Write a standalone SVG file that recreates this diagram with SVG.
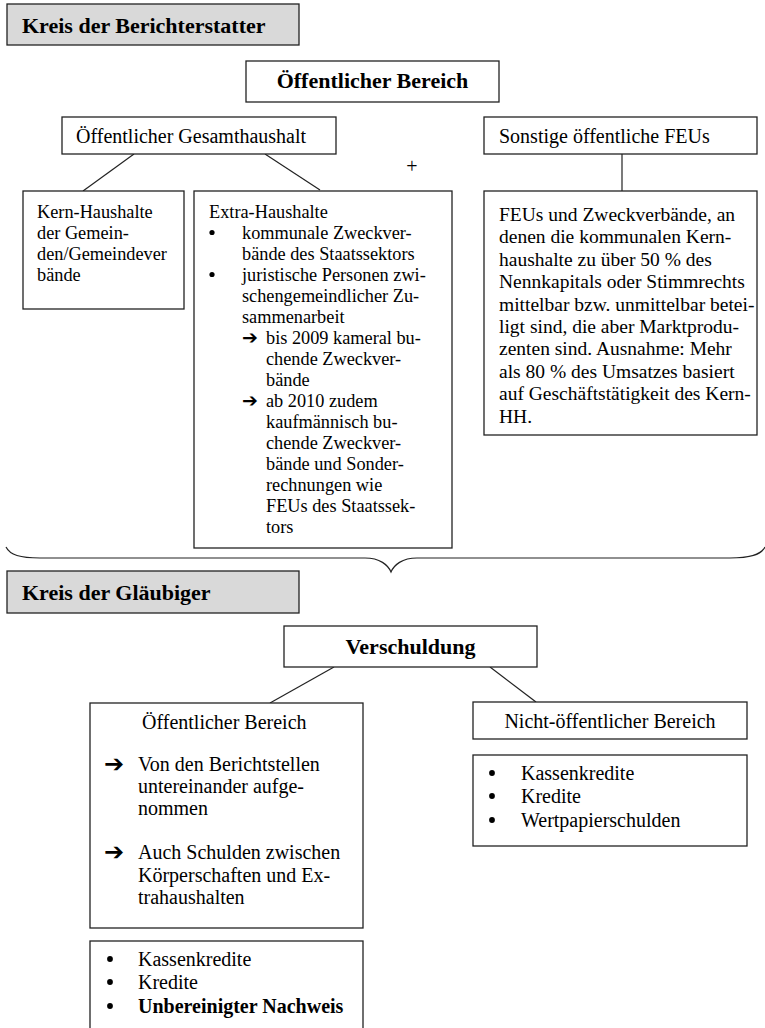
<svg xmlns="http://www.w3.org/2000/svg" width="765" height="1028" viewBox="0 0 765 1028">
<style>
.box{fill:#fff;stroke:#222;stroke-width:1.3}
.hdr{fill:#d9d9d9;stroke:#222;stroke-width:1.3}
.ln{stroke:#222;stroke-width:1.2;fill:none}
.dot{fill:#000}
text{font-family:"Liberation Serif","Times New Roman",serif;fill:#000}
.b{font-weight:bold}
.t20{font-size:20px}
.t18{font-size:18.3px}
.t19{font-size:19.5px}
.t22{font-size:22px}
.arr{font-family:"DejaVu Sans",sans-serif;font-weight:bold}
</style>
<rect width="765" height="1028" fill="#fff"/>

<g id="connectors">
<line class="ln" x1="134" y1="154" x2="83" y2="191"/>
<line class="ln" x1="265" y1="154" x2="320" y2="190"/>
<line class="ln" x1="622" y1="154" x2="622" y2="191"/>
<path class="ln" stroke-width="1.5" d="M6,547 C10,555 20,558 40,558 L365,558 C380,558 388,565 391,572 C394,565 402,558 417,558 L730,558 C750,558 761,555 765,547"/>
<line class="ln" x1="334" y1="667" x2="270" y2="703"/>
<line class="ln" x1="490" y1="667" x2="536" y2="702"/>
</g>

<g id="hdr-berichterstatter">
<rect class="hdr" x="7" y="4" width="292" height="41"/>
<text class="b t22" x="22" y="33">Kreis der Berichterstatter</text>
</g>

<g id="oeff-bereich">
<rect class="box" x="246" y="61" width="253" height="41"/>
<text class="b t22" x="372.5" y="88" text-anchor="middle">Öffentlicher Bereich</text>
</g>

<g id="gesamthaushalt">
<rect class="box" x="62" y="117" width="274" height="37"/>
<text class="t20" x="76" y="143">Öffentlicher Gesamthaushalt</text>
</g>

<g id="plus">
<text class="t20" x="412" y="173" text-anchor="middle" fill="#000">+</text>
</g>

<g id="sonstige">
<rect class="box" x="484" y="117" width="273" height="37"/>
<text class="t20" x="499" y="143">Sonstige öffentliche FEUs</text>
</g>

<g id="kern">
<rect class="box" x="23" y="191" width="161" height="118"/>
<text class="t18"><tspan x="37" y="218">Kern-Haushalte</tspan><tspan x="37" y="239">der Gemein-</tspan><tspan x="37" y="260">den/Gemeindever</tspan><tspan x="37" y="281">bände</tspan></text>
</g>

<g id="extra">
<rect class="box" x="194" y="191" width="258" height="357"/>
<text class="t18"><tspan x="209" y="218">Extra-Haushalte</tspan><tspan x="242" y="239">kommunale Zweckver-</tspan><tspan x="242" y="260">bände des Staatssektors</tspan><tspan x="242" y="281">juristische Personen zwi-</tspan><tspan x="242" y="302">schengemeindlicher Zu-</tspan><tspan x="242" y="323">sammenarbeit</tspan><tspan x="266" y="344">bis 2009 kameral bu-</tspan><tspan x="266" y="365">chende Zweckver-</tspan><tspan x="266" y="386">bände</tspan><tspan x="266" y="407">ab 2010 zudem</tspan><tspan x="266" y="428">kaufmännisch bu-</tspan><tspan x="266" y="449">chende Zweckver-</tspan><tspan x="266" y="470">bände und Sonder-</tspan><tspan x="266" y="491">rechnungen wie</tspan><tspan x="266" y="512">FEUs des Staatssek-</tspan><tspan x="266" y="533">tors</tspan></text>
<circle class="dot" cx="212" cy="232.5" r="2.6"/>
<circle class="dot" cx="212" cy="274.5" r="2.6"/>
<text class="arr" font-size="19"><tspan x="242" y="344">➔</tspan><tspan x="242" y="407">➔</tspan></text>
</g>

<g id="feu">
<rect class="box" x="484" y="191" width="273" height="244"/>
<text class="t19"><tspan x="499" y="221">FEUs und Zweckverbände, an</tspan><tspan x="499" y="243.4">denen die kommunalen Kern-</tspan><tspan x="499" y="265.8">haushalte zu über 50 % des</tspan><tspan x="499" y="288.2">Nennkapitals oder Stimmrechts</tspan><tspan x="499" y="310.6">mittelbar bzw. unmittelbar betei-</tspan><tspan x="499" y="333">ligt sind, die aber Marktprodu-</tspan><tspan x="499" y="355.4">zenten sind. Ausnahme: Mehr</tspan><tspan x="499" y="377.8">als 80 % des Umsatzes basiert</tspan><tspan x="499" y="400.2">auf Geschäftstätigkeit des Kern-</tspan><tspan x="499" y="422.6">HH.</tspan></text>
</g>

<g id="hdr-glaeubiger">
<rect class="hdr" x="7" y="571" width="292" height="42"/>
<text class="b t22" x="22" y="600">Kreis der Gläubiger</text>
</g>

<g id="verschuldung">
<rect class="box" x="284" y="626" width="253" height="41"/>
<text class="b t22" x="410.5" y="654" text-anchor="middle">Verschuldung</text>
</g>

<g id="oeff-bereich-2">
<rect class="box" x="90" y="703" width="273" height="225"/>
<text class="t20"><tspan x="142" y="729">Öffentlicher Bereich</tspan><tspan x="138" y="771">Von den Berichtstellen</tspan><tspan x="138" y="793">untereinander aufge-</tspan><tspan x="138" y="815">nommen</tspan><tspan x="138" y="859">Auch Schulden zwischen</tspan><tspan x="138" y="882">Körperschaften und Ex-</tspan><tspan x="138" y="904">trahaushalten</tspan></text>
<text class="arr" font-size="24"><tspan x="104" y="772">➔</tspan><tspan x="104" y="860">➔</tspan></text>
</g>

<g id="oeff-liste">
<rect class="box" x="90" y="941" width="273" height="95"/>
<text class="t20"><tspan x="138" y="966">Kassenkredite</tspan><tspan x="138" y="989">Kredite</tspan><tspan x="138" y="1013" font-weight="bold">Unbereinigter Nachweis</tspan></text>
<circle class="dot" cx="110" cy="959" r="2.9"/>
<circle class="dot" cx="110" cy="982" r="2.9"/>
<circle class="dot" cx="110" cy="1006" r="2.9"/>
</g>

<g id="nicht-oeff">
<rect class="box" x="473" y="702" width="274" height="37"/>
<text class="t20" x="610" y="728" text-anchor="middle">Nicht-öffentlicher Bereich</text>
</g>

<g id="nicht-oeff-liste">
<rect class="box" x="473" y="755" width="274" height="91"/>
<text class="t20"><tspan x="521" y="780">Kassenkredite</tspan><tspan x="521" y="803">Kredite</tspan><tspan x="521" y="827">Wertpapierschulden</tspan></text>
<circle class="dot" cx="492" cy="773" r="2.9"/>
<circle class="dot" cx="492" cy="796" r="2.9"/>
<circle class="dot" cx="492" cy="820" r="2.9"/>
</g>
</svg>
